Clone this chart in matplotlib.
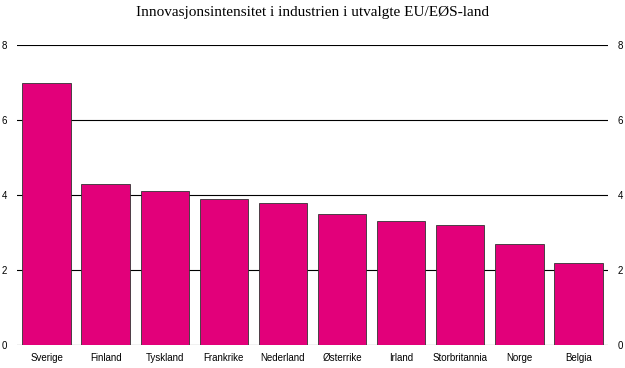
import matplotlib
matplotlib.use("Agg")
import matplotlib.pyplot as plt

categories = ["Sverige", "Finland", "Tyskland", "Frankrike", "Nederland",
              "Østerrike", "Irland", "Storbritannia", "Norge", "Belgia"]
values = [7.0, 4.3, 4.1, 3.9, 3.8, 3.5, 3.3, 3.2, 2.7, 2.2]
yticks = [0, 2, 4, 6, 8]

fig = plt.figure(figsize=(6.25, 3.68), dpi=100)
ax = fig.add_axes([17 / 625, 1 - 345 / 368, (608 - 17) / 625, 300 / 368])

ax.set_axisbelow(True)
ax.yaxis.grid(True, color="black", linewidth=0.8)
x = range(len(categories))
ax.bar(x, values, width=0.82, color="#E2007A", edgecolor="#333333", linewidth=0.6, zorder=2)

ax.set_xlim(-0.5, len(categories) - 0.5)
ax.set_ylim(0, 8)
ax.set_yticks(yticks)
ax.set_yticklabels([str(t) for t in yticks])
ax.set_xticks(list(x))
ax.set_xticklabels(categories)
for s in ax.spines.values():
    s.set_visible(False)
ax.tick_params(axis="y", which="both", left=False, right=False, length=0,
               labelleft=True, labelright=True, labelsize=7, pad=7)
ax.tick_params(axis="x", length=0, labelsize=7, pad=6)
for lbl in ax.get_xticklabels() + ax.yaxis.get_ticklabels(which="both"):
    lbl.set_fontfamily("Liberation Sans")
for t in ax.yaxis.get_major_ticks():
    t.label2.set_fontfamily("Liberation Sans")

fig.text(0.5, 0.965, "Innovasjonsintensitet i industrien i utvalgte EU/EØS-land",
         ha="center", va="center", fontsize=11, family="Liberation Serif")

fig.savefig("out.png", dpi=100)
